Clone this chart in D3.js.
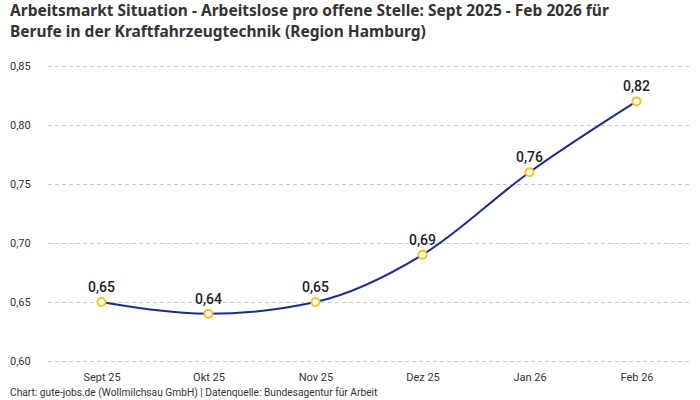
<!DOCTYPE html>
<html>
<head>
<meta charset="utf-8">
<script src="https://cdn.jsdelivr.net/npm/d3@7"></script>
<style>
body { margin:0; background:#fff; font-family:"Noto Sans", Roboto, sans-serif; }
.title { font-size:15.5px; font-weight:bold; fill:#333; }
.y-axis text, .x-axis text { font-size:11px; fill:#333; font-family:Roboto, sans-serif; }
.y-axis path, .x-axis path, .x-axis line { display:none; }
.y-axis line { stroke:#ccc; stroke-dasharray:4,3; }
.val { font-size:14px; font-weight:500; fill:#222; text-anchor:middle; font-family:Roboto, sans-serif; }
.foot { font-size:10.2px; fill:#333; font-family:Roboto, sans-serif; }
</style>
</head>
<body>
<script>
// data
var months = ["Sept 25", "Okt 25", "Nov 25", "Dez 25", "Jan 26", "Feb 26"];
var values = [0.65, 0.64, 0.65, 0.69, 0.76, 0.82];
var yTicks = [0.60, 0.65, 0.70, 0.75, 0.80, 0.85];

var W = 700, H = 400;
var m = {top:66, right:10, bottom:39, left:48};

var svg = d3.select("body").append("svg")
    .attr("width", W).attr("height", H);

svg.append("text").attr("class", "title").attr("x", 10).attr("y", 16)
    .text("Arbeitsmarkt Situation - Arbeitslose pro offene Stelle: Sept 2025 - Feb 2026 für");
svg.append("text").attr("class", "title").attr("x", 10).attr("y", 37)
    .text("Berufe in der Kraftfahrzeugtechnik (Region Hamburg)");

var x = d3.scalePoint()
    .domain(months)
    .range([m.left, W - m.right])
    .padding(0.5);

var y = d3.scaleLinear()
    .domain([0.60, 0.85])
    .range([H - m.bottom, m.top]);

var fmt = function(d) { return d3.format(".2f")(d).replace(".", ","); };

svg.append("g")
    .attr("class", "y-axis")
    .attr("transform", `translate(${m.left},0)`)
    .call(d3.axisLeft(y).tickValues(yTicks).tickFormat(fmt)
        .tickSize(-(W - m.right - m.left)).tickPadding(0))
    .selectAll("text").attr("x", -38).attr("text-anchor", "start");

svg.append("g")
    .attr("class", "x-axis")
    .attr("transform", `translate(0,${H - m.bottom})`)
    .call(d3.axisBottom(x).tickSize(0).tickPadding(12));

var line = d3.line()
    .x((d, i) => x(months[i]))
    .y(d => y(d))
    .curve(d3.curveMonotoneX);

svg.append("path")
    .datum(values)
    .attr("d", line)
    .attr("fill", "none")
    .attr("stroke", "#1c2c94")
    .attr("stroke-width", 2);

svg.selectAll("circle")
    .data(values)
    .enter().append("circle")
    .attr("cx", (d, i) => x(months[i]))
    .attr("cy", d => y(d))
    .attr("r", 4)
    .attr("fill", "#fff")
    .attr("stroke", "#f7c21c")
    .attr("stroke-width", 2);

svg.selectAll(".val")
    .data(values)
    .enter().append("text")
    .attr("class", "val")
    .attr("x", (d, i) => x(months[i]))
    .attr("y", d => y(d) - 10)
    .text(fmt);

svg.append("text").attr("class", "foot").attr("x", 10).attr("y", 396)
    .text("Chart: gute-jobs.de (Wollmilchsau GmbH) | Datenquelle: Bundesagentur für Arbeit");
</script>
</body>
</html>
